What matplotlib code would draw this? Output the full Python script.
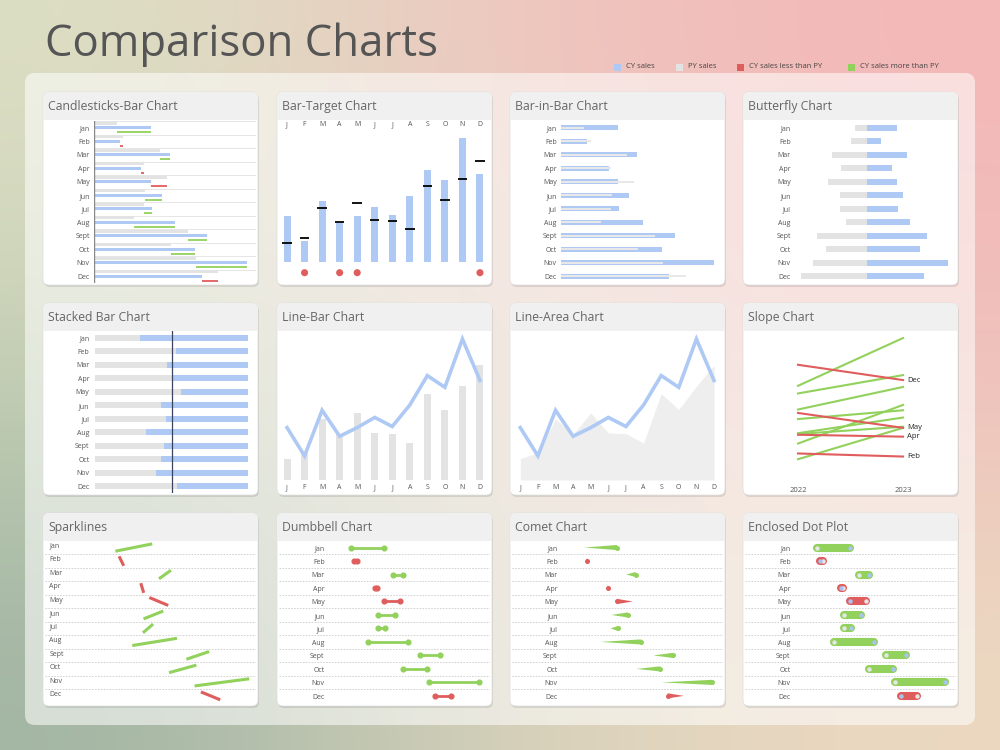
import numpy as np
import matplotlib
matplotlib.use('Agg')
import matplotlib.pyplot as plt
from matplotlib.patches import FancyBboxPatch, Rectangle, Polygon
from matplotlib.colors import to_rgb
from matplotlib import transforms

# data
months = ['Jan', 'Feb', 'Mar', 'Apr', 'May', 'Jun', 'Jul', 'Aug', 'Sept', 'Oct', 'Nov', 'Dec']
month_letters = ['J', 'F', 'M', 'A', 'M', 'J', 'J', 'A', 'S', 'O', 'N', 'D']
cy_sales = [139, 64, 185, 116, 139, 166, 142, 199, 277, 246, 374, 264]
py_sales = [57, 72, 162, 121, 178, 125, 123, 98, 229, 187, 249, 304]
years = ['2022', '2023']
legend_labels = ['CY sales', 'PY sales', 'CY sales less than PY', 'CY sales more than PY']

BLUE = '#afc9f5'
GREY = '#e3e3e3'
RED = '#e05d5d'
GREEN = '#91d15c'
TXT = '#555555'

cy = np.array(cy_sales)
py = np.array(py_sales)
idx = np.arange(len(months))
up = cy >= py
seg_col = [GREEN if u else RED for u in up]

plt.rcParams['font.family'] = ['Open Sans', 'DejaVu Sans']

fig = plt.figure(figsize=(10, 7.5), dpi=100)

# background in pixel units
bg = fig.add_axes([0, 0, 1, 1])
bg.set_xlim(0, 1000)
bg.set_ylim(750, 0)
bg.axis('off')

corners = [['#dcdfc4', '#f0c8c0', '#f3b8b8'],
           ['#c2cfb4', '#e4d0c0', '#f0c0bc'],
           ['#a1b5a3', '#d8d3bc', '#ecd9c1']]
grid = np.array([[to_rgb(c) for c in row] for row in corners])
bg.imshow(grid, extent=[0, 1000, 750, 0], interpolation='bicubic', aspect='auto', zorder=0)

bg.add_patch(FancyBboxPatch((25, 73), 950, 652, boxstyle='round,pad=0,rounding_size=10',
                            fc='white', ec='none', alpha=0.55, zorder=1))

bg.text(45, 45, 'Comparison Charts', fontsize=31.5, color=TXT, va='center', ha='left')

leg_x = [614, 676, 737, 848]
leg_c = [BLUE, GREY, RED, GREEN]
for lx, lc, lab in zip(leg_x, leg_c, legend_labels):
    bg.add_patch(Rectangle((lx, 63.5), 7, 7, fc=lc, ec='none', zorder=2))
    bg.text(lx + 12, 67, lab, fontsize=5.5, color='#444', va='center', zorder=2)

cols = [(43, 258), (277, 492), (510, 725), (743, 958)]
rows = [(92, 285), (303, 495), (513, 706)]
titles = [['Candlesticks-Bar Chart', 'Bar-Target Chart', 'Bar-in-Bar Chart', 'Butterfly Chart'],
          ['Stacked Bar Chart', 'Line-Bar Chart', 'Line-Area Chart', 'Slope Chart'],
          ['Sparklines', 'Dumbbell Chart', 'Comet Chart', 'Enclosed Dot Plot']]

for r, (y0, y1) in enumerate(rows):
    for c, (x0, x1) in enumerate(cols):
        w, h = x1 - x0, y1 - y0
        bg.add_patch(FancyBboxPatch((x0 + 1, y0 + 2), w, h, boxstyle='round,pad=0,rounding_size=6',
                                    fc='black', ec='none', alpha=0.10, zorder=2))
        bg.add_patch(FancyBboxPatch((x0, y0), w, h, boxstyle='round,pad=0,rounding_size=6',
                                    fc='white', ec='#dddddd', lw=0.5, zorder=3))
        bg.add_patch(FancyBboxPatch((x0, y0), w, 28, boxstyle='round,pad=0,rounding_size=6',
                                    fc='#f0f0f0', ec='none', zorder=4))
        bg.add_patch(Rectangle((x0, y0 + 14), w, 14, fc='#f0f0f0', ec='none', zorder=4))
        bg.text(x0 + 5, y0 + 14.5, titles[r][c], fontsize=8.8, color='#666666',
                va='center', ha='left', zorder=5)


def add_ax(x0, y0, x1, y1):
    ax = fig.add_axes([x0 / 1000, 1 - y1 / 750, (x1 - x0) / 1000, (y1 - y0) / 750])
    ax.patch.set_alpha(0)
    for s in ax.spines.values():
        s.set_visible(False)
    ax.tick_params(length=0, labelsize=5, labelcolor=TXT)
    ax.set_xticks([])
    ax.set_yticks([])
    return ax


def month_rows(ax, pad=3):
    ax.set_ylim(11.5, -0.5)
    ax.set_yticks(idx)
    ax.set_yticklabels(months)
    ax.tick_params(axis='y', pad=pad)


# 1 candlesticks
ax = add_ax(94, 121, 256, 283)
month_rows(ax)
ax.set_xlim(0, 396)
ax.barh(idx - 0.32, py, height=0.22, color=GREY)
ax.barh(idx, cy, height=0.24, color=BLUE)
ax.hlines(idx + 0.32, np.minimum(py, cy), np.maximum(py, cy), colors=seg_col, lw=1.3)
ax.hlines(np.arange(-0.5, 12), 0, 396, colors='#e6e6e6', lw=0.7, zorder=0)
ax.axvline(0, color='#888888', lw=1)

# 2 bar-target
ax = add_ax(276.5, 131, 490.5, 282)
ax.set_xlim(-0.6, 11.6)
ax.set_ylim(-60, 394)
ax.bar(idx, cy, width=0.4, color=BLUE)
ax.hlines(py, idx - 0.27, idx + 0.27, colors='black', lw=1.3)
ax.scatter(idx[~up], np.full((~up).sum(), -32), s=26, color=RED, edgecolors='none')
ax.xaxis.tick_top()
ax.set_xticks(idx)
ax.set_xticklabels(month_letters)
ax.tick_params(axis='x', pad=2)

# 3 bar-in-bar
ax = add_ax(561, 121, 720, 283)
month_rows(ax)
ax.set_xlim(0, 388)
ax.barh(idx, cy, height=0.4, color=BLUE)
ax.barh(idx, py, height=0.13, color='#e8e8e8')

# 4 butterfly
ax = add_ax(795, 121, 955, 283)
month_rows(ax)
ax.set_xlim(-332, 406)
ax.barh(idx, -py, height=0.45, color=GREY)
ax.barh(idx, cy, height=0.45, color=BLUE)

# 5 stacked
ax = add_ax(95, 331, 248.3, 493)
month_rows(ax, pad=4)
ax.set_xlim(0, 1)
share = py / (py + cy)
ax.barh(idx, share, height=0.45, color=GREY)
ax.barh(idx, 1 - share, left=share, height=0.45, color=BLUE)
ax.axvline(0.5, color='#3b4460', lw=0.9)

# 6 line-bar
ax = add_ax(276.5, 330, 490.5, 480)
ax.set_xlim(-0.6, 11.6)
ax.set_ylim(0, 398)
ax.bar(idx, py, width=0.4, color=GREY)
ax.plot(idx, cy, color=BLUE, lw=2.6, solid_joinstyle='miter')
ax.set_xticks(idx)
ax.set_xticklabels(month_letters)
ax.tick_params(axis='x', pad=3)

# 7 line-area
ax = add_ax(509.7, 330, 724.6, 480)
ax.set_xlim(-0.6, 11.6)
ax.set_ylim(0, 398)
ax.fill_between(idx, py, color='#eeeeee', lw=0)
ax.plot(idx, cy, color=BLUE, lw=2.6, solid_joinstyle='miter')
ax.set_xticks(idx)
ax.set_xticklabels(month_letters)
ax.tick_params(axis='x', pad=3)

# 8 slope
ax = add_ax(745, 330, 955, 481)
ax.set_xlim(-0.505, 1.495)
ax.set_ylim(0, 395)
for i in idx:
    if up[i]:
        ax.plot([0, 1], [py[i], cy[i]], color=GREEN, lw=1.5)
for i in idx:
    if not up[i]:
        ax.plot([0, 1], [py[i], cy[i]], color=RED, lw=1.5)
        ax.text(1.04, cy[i], months[i], fontsize=5.5, color='#222222', va='center')
ax.set_xticks([0, 1])
ax.set_xticklabels(years)
ax.tick_params(axis='x', pad=4, labelsize=5.5)


# 9-12 dashed-row charts
def dashed_rows(ax):
    ax.set_ylim(11.5, -0.5)
    ax.hlines(np.arange(0.5, 12), *ax.get_xlim(), colors='#cccccc', lw=0.6,
              linestyles=(0, (2, 1.5)), zorder=0)


# 9 sparklines
ax = add_ax(45, 540.8, 256, 702.6)
ax.set_xlim(-117, 394)
dashed_rows(ax)
tr = transforms.blended_transform_factory(ax.transAxes, ax.transData)
for i in idx:
    ax.text(0.02, i - 0.1, months[i], fontsize=5, color=TXT, va='center', transform=tr)
    ax.plot([py[i], cy[i]], [i + 0.25, i - 0.25], color=seg_col[i], lw=2.2)

# 10 dumbbell
ax = add_ax(279, 540.8, 490, 702.6)
ax.set_xlim(-121, 401)
dashed_rows(ax)
for i in idx:
    ax.text(-8, i + 0.1, months[i], fontsize=5, color=TXT, va='center', ha='right')
    ax.plot([py[i], cy[i]], [i, i], color=seg_col[i], lw=2, marker='o', ms=3.4)

# 11 comet
ax = add_ax(512, 540.8, 723, 702.6)
ax.set_xlim(-121, 401)
dashed_rows(ax)
for i in idx:
    ax.text(-8, i + 0.1, months[i], fontsize=5, color=TXT, va='center', ha='right')
    ax.add_patch(Polygon([(py[i], i), (cy[i], i - 0.19), (cy[i], i + 0.19)],
                         closed=True, fc=seg_col[i], ec='none'))
    ax.plot(cy[i], i, marker='o', ms=3.6, color=seg_col[i], mec='none')

# 12 enclosed dot
ax = add_ax(745, 540.8, 956, 702.6)
ax.set_xlim(-121, 401)
dashed_rows(ax)
for i in idx:
    ax.text(-8, i + 0.1, months[i], fontsize=5, color=TXT, va='center', ha='right')
    ax.plot([py[i], cy[i]], [i, i], color=seg_col[i], lw=5.8, solid_capstyle='round')
    ax.plot(py[i], i, marker='o', ms=3.2, color='#e6e6e6', mec='none')
    ax.plot(cy[i], i, marker='o', ms=3.2, color='#aac4f0', mec='none')

fig.savefig('out.png', dpi=100)
